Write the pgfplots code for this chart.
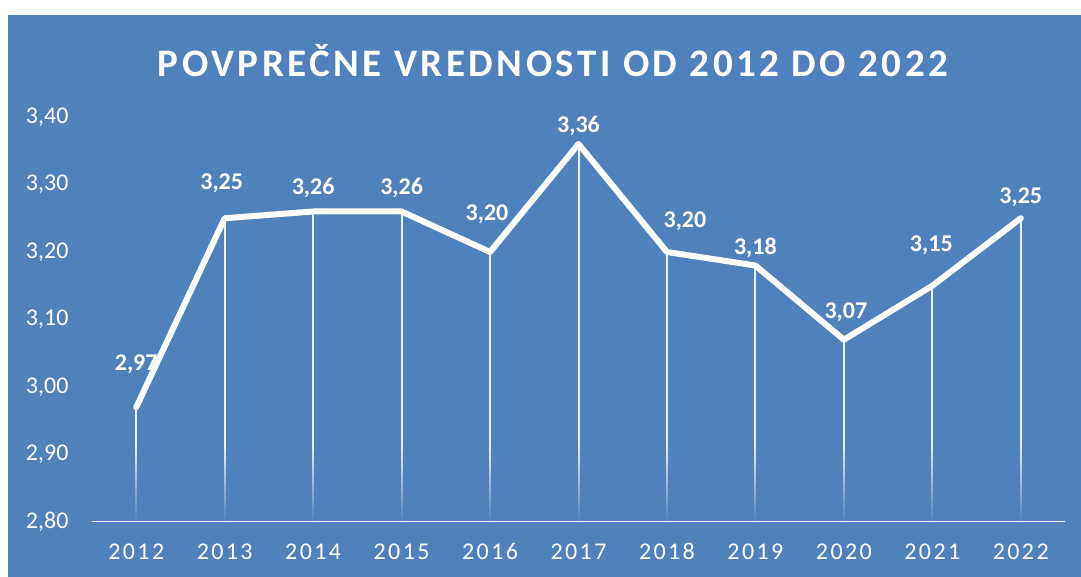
\documentclass[border=0pt]{standalone}
\usepackage{pgfplots}
\pgfplotsset{compat=1.18}
\usepackage{pgfplotstable}
\usepackage{fontspec}
\setmainfont{Carlito}
\newfontfamily\spacedfont[LetterSpace=10]{Carlito}
\newfontfamily\titlefont[LetterSpace=9]{Carlito}
\usetikzlibrary{fadings}
\definecolor{bg}{RGB}{79,129,189}

\pgfplotstableread{
x y dx dy
2012 2.97 0 43
2013 3.25 -3 35
2014 3.26 0 24
2015 3.26 0 24
2016 3.20 -3 38
2017 3.36 0 18
2018 3.20 18 31
2019 3.18 0 18
2020 3.07 2 27
2021 3.15 -1 40
2022 3.25 0 21
}\datatable

\begin{document}
\begin{tikzpicture}
\fill[white] (0pt,0pt) rectangle (1081pt,577pt);
\fill[bg] (8pt,0pt) rectangle (1081pt,562pt);
\node[font=\titlefont\bfseries\fontsize{39}{39}\selectfont, text=white] at (553pt,516pt) {POVPREČNE VREDNOSTI OD 2012 DO 2022};
\begin{axis}[
  at={(92pt,55pt)}, anchor=south west,
  scale only axis, width=973pt, height=438.75pt,
  xmin=2011.5, xmax=2022.5, ymin=2.8, ymax=3.45,
  xtick={2012,2013,2014,2015,2016,2017,2018,2019,2020,2021,2022},
  xticklabels={2012,2013,2014,2015,2016,2017,2018,2019,2020,2021,2022},
  ytick={2.8,2.9,3.0,3.1,3.2,3.3,3.4},
  axis line style={draw=none},
  major tick length=0pt,
  tick style={draw=none},
  xticklabel style={font=\spacedfont\fontsize{24}{24}\selectfont, text=white, yshift=-18pt},
  yticklabel style={font=\fontsize{24}{24}\selectfont, text=white, xshift=-20pt,
    /pgf/number format/.cd, fixed, fixed zerofill, precision=2, use comma, assume math mode=true},
]
\addplot[ycomb, white, line width=2pt, opacity=0.9] table[x=x,y=y] {\datatable};
\fill[bg, path fading=north] (axis cs:2011.5,2.8) rectangle (axis cs:2022.5,2.915);
\draw[white, line width=2.5pt] (axis cs:2011.5,2.8) -- (axis cs:2022.5,2.8);
\addplot[white, line width=6pt, line join=round, line cap=round,
  nodes near coords={\pgfmathprintnumber[fixed,fixed zerofill,precision=2,use comma,assume math mode=true]{\pgfplotspointmeta}},
  point meta=y,
  visualization depends on={\thisrow{dx} \as \dx},
  visualization depends on={\thisrow{dy} \as \dy},
  every node near coord/.style={anchor=center, xshift=\dx pt, yshift=\dy pt, text=white, font=\bfseries\fontsize{24}{24}\selectfont},
] table[x=x,y=y] {\datatable};
\end{axis}
\end{tikzpicture}
\end{document}
